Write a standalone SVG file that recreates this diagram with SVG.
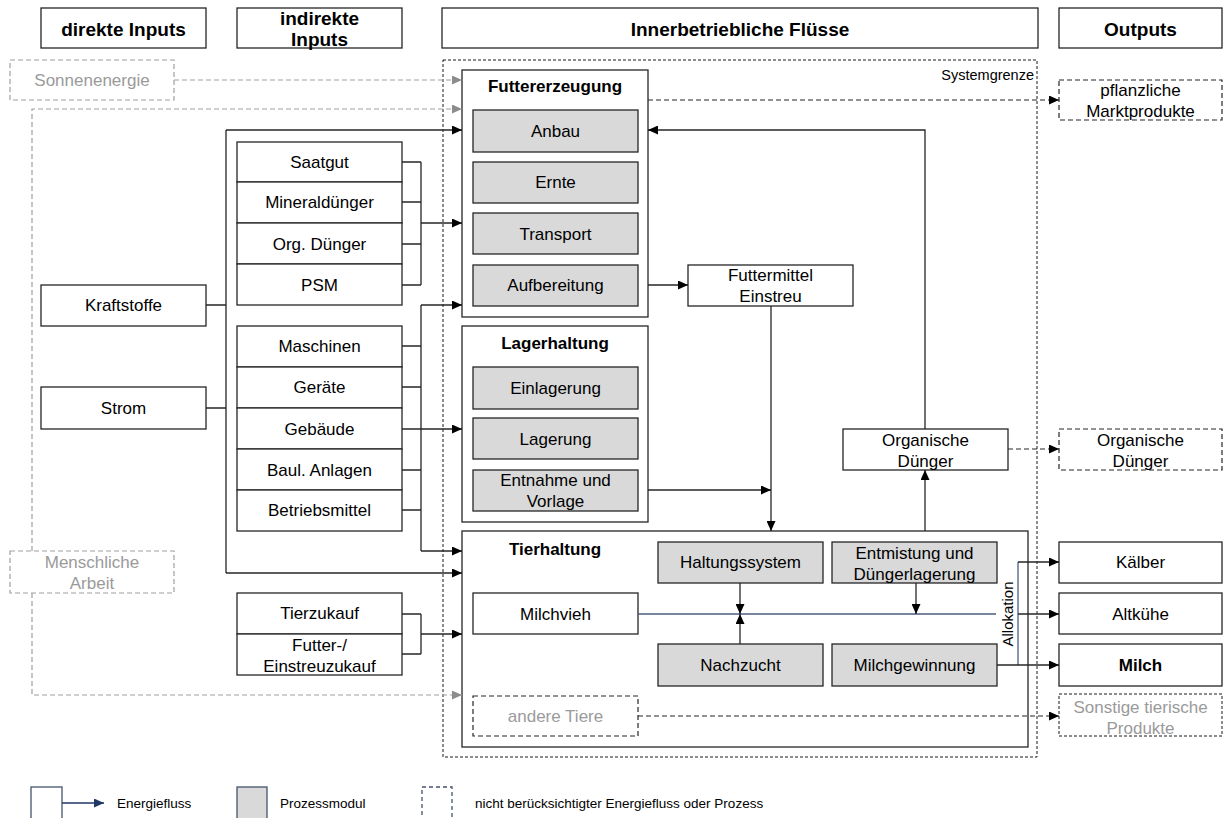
<svg xmlns="http://www.w3.org/2000/svg" width="1225" height="818" viewBox="0 0 1225 818">
<style>
text{font-family:"Liberation Sans",Arial,sans-serif;fill:#000}
.t{font-size:17px;text-anchor:middle}
.h{font-size:19px;font-weight:bold;text-anchor:middle}
.b{font-weight:bold}
.g{fill:#9a9a9a}
.box{fill:#fff;stroke:#262626;stroke-width:1.3}
.proc{fill:#d9d9d9;stroke:#262626;stroke-width:1.3}
.dbox{fill:#fff;stroke:#262626;stroke-width:1.2;stroke-dasharray:5,3}
.gbox{fill:#fff;stroke:#a0a0a0;stroke-width:1.2;stroke-dasharray:5,3}
.sys{fill:none;stroke:#1a1a1a;stroke-width:1;stroke-dasharray:3,2}
.ln{fill:none;stroke:#262626;stroke-width:1.3}
.dl{fill:none;stroke:#262626;stroke-width:1.2;stroke-dasharray:5,3}
.gl{fill:none;stroke:#a0a0a0;stroke-width:1.2;stroke-dasharray:5,3}
.bl{fill:none;stroke:#4a5d7e;stroke-width:1.3}
.lg{font-size:13.5px}
.lgb{stroke:#44546a;stroke-width:1.3}
</style>
<defs>
<marker id="a" markerUnits="userSpaceOnUse" markerWidth="10" markerHeight="9" refX="10" refY="4.5" orient="auto"><path d="M0,0L10,4.5L0,9z" fill="#000"/></marker>
<marker id="ag" markerUnits="userSpaceOnUse" markerWidth="10" markerHeight="9" refX="10" refY="4.5" orient="auto"><path d="M0,0L10,4.5L0,9z" fill="#8c8c8c"/></marker>
<marker id="ab" markerUnits="userSpaceOnUse" markerWidth="10" markerHeight="9" refX="10" refY="4.5" orient="auto"><path d="M0,0L10,4.5L0,9z" fill="#1f3864"/></marker>
</defs>
<rect width="1225" height="818" fill="#fff"/>

<g id="headers">
<g id="h-direkt"><rect class="box" x="41" y="8" width="165" height="40"/><text class="h" x="123.5" y="36">direkte Inputs</text></g>
<g id="h-indirekt"><rect class="box" x="237" y="8" width="165" height="40"/><text class="h" x="319.5" y="25">indirekte</text><text class="h" x="319.5" y="46">Inputs</text></g>
<g id="h-inner"><rect class="box" x="442" y="8" width="596" height="40"/><text class="h" x="740" y="36">Innerbetriebliche Flüsse</text></g>
<g id="h-out"><rect class="box" x="1059" y="8" width="163" height="40"/><text class="h" x="1140.5" y="36">Outputs</text></g>
</g>

<g id="systemgrenze"><rect class="sys" x="443" y="60" width="594" height="697"/><text x="1034" y="80" style="font-size:14.5px;text-anchor:end">Systemgrenze</text></g>

<g id="sonnenenergie"><rect class="gbox" x="10" y="60" width="164" height="40"/><text class="t g" x="92" y="86">Sonnenenergie</text></g>
<g id="menschliche-arbeit"><rect class="gbox" x="10" y="551" width="164" height="42"/><text class="t g" x="92" y="568">Menschliche</text><text class="t g" x="92" y="589">Arbeit</text></g>
<g id="kraftstoffe"><rect class="box" x="41" y="285" width="165" height="41"/><text class="t" x="123.5" y="311">Kraftstoffe</text></g>
<g id="strom"><rect class="box" x="41" y="387" width="165" height="42"/><text class="t" x="123.5" y="414">Strom</text></g>

<g id="saatgut"><rect class="box" x="237" y="142" width="165" height="40"/><text class="t" x="319.5" y="168">Saatgut</text></g>
<g id="mineralduenger"><rect class="box" x="237" y="182" width="165" height="41"/><text class="t" x="319.5" y="208">Mineraldünger</text></g>
<g id="org-duenger"><rect class="box" x="237" y="223" width="165" height="41"/><text class="t" x="319.5" y="250">Org. Dünger</text></g>
<g id="psm"><rect class="box" x="237" y="264" width="165" height="41"/><text class="t" x="319.5" y="291">PSM</text></g>
<g id="maschinen"><rect class="box" x="237" y="326" width="165" height="41"/><text class="t" x="319.5" y="352">Maschinen</text></g>
<g id="geraete"><rect class="box" x="237" y="367" width="165" height="41"/><text class="t" x="319.5" y="393">Geräte</text></g>
<g id="gebaeude"><rect class="box" x="237" y="408" width="165" height="41"/><text class="t" x="319.5" y="435">Gebäude</text></g>
<g id="baul-anlagen"><rect class="box" x="237" y="449" width="165" height="41"/><text class="t" x="319.5" y="476">Baul. Anlagen</text></g>
<g id="betriebsmittel"><rect class="box" x="237" y="490" width="165" height="41"/><text class="t" x="319.5" y="516">Betriebsmittel</text></g>
<g id="tierzukauf"><rect class="box" x="237" y="593" width="165" height="41"/><text class="t" x="319.5" y="619">Tierzukauf</text></g>
<g id="futterzukauf"><rect class="box" x="237" y="634" width="165" height="41"/><text class="t" x="319.5" y="651">Futter-/</text><text class="t" x="319.5" y="672">Einstreuzukauf</text></g>

<g id="futtererzeugung"><rect class="box" x="462" y="70" width="186" height="247"/><text class="t b" x="555" y="92">Futtererzeugung</text></g>
<g id="anbau"><rect class="proc" x="473" y="110" width="165" height="42"/><text class="t" x="555.5" y="137">Anbau</text></g>
<g id="ernte"><rect class="proc" x="473" y="162" width="165" height="41"/><text class="t" x="555.5" y="188">Ernte</text></g>
<g id="transport"><rect class="proc" x="473" y="213" width="165" height="41"/><text class="t" x="555.5" y="240">Transport</text></g>
<g id="aufbereitung"><rect class="proc" x="473" y="265" width="165" height="41"/><text class="t" x="555.5" y="291">Aufbereitung</text></g>

<g id="lagerhaltung"><rect class="box" x="462" y="326" width="186" height="196"/><text class="t b" x="555" y="349">Lagerhaltung</text></g>
<g id="einlagerung"><rect class="proc" x="473" y="367" width="165" height="42"/><text class="t" x="555.5" y="394">Einlagerung</text></g>
<g id="lagerung"><rect class="proc" x="473" y="418" width="165" height="41"/><text class="t" x="555.5" y="445">Lagerung</text></g>
<g id="entnahme"><rect class="proc" x="473" y="470" width="165" height="41"/><text class="t" x="555.5" y="486">Entnahme und</text><text class="t" x="555.5" y="507">Vorlage</text></g>

<g id="futtermittel"><rect class="box" x="688" y="265" width="165" height="41"/><text class="t" x="770.5" y="281">Futtermittel</text><text class="t" x="770.5" y="302">Einstreu</text></g>
<g id="org-duenger-int"><rect class="box" x="843" y="429" width="165" height="41"/><text class="t" x="925.5" y="446">Organische</text><text class="t" x="925.5" y="467">Dünger</text></g>

<g id="tierhaltung"><rect class="box" x="462" y="531" width="566" height="216"/><text class="t b" x="555" y="555">Tierhaltung</text></g>
<g id="haltungssystem"><rect class="proc" x="658" y="542" width="165" height="41"/><text class="t" x="740.5" y="568">Haltungssystem</text></g>
<g id="entmistung"><rect class="proc" x="832" y="542" width="165" height="41"/><text class="t" x="914.5" y="559">Entmistung und</text><text class="t" x="914.5" y="580">Düngerlagerung</text></g>
<g id="milchvieh"><rect class="box" x="473" y="593" width="165" height="41"/><text class="t" x="555.5" y="620">Milchvieh</text></g>
<g id="nachzucht"><rect class="proc" x="658" y="644" width="165" height="42"/><text class="t" x="740.5" y="671">Nachzucht</text></g>
<g id="milchgewinnung"><rect class="proc" x="832" y="644" width="165" height="42"/><text class="t" x="914.5" y="671">Milchgewinnung</text></g>
<g id="andere-tiere"><rect class="dbox" x="473" y="696" width="165" height="40"/><text class="t g" x="555.5" y="722">andere Tiere</text></g>

<g id="pflanzliche"><rect class="dbox" x="1059" y="80" width="163" height="40"/><text class="t" x="1140.5" y="96">pflanzliche</text><text class="t" x="1140.5" y="117">Marktprodukte</text></g>
<g id="org-duenger-out"><rect class="dbox" x="1059" y="429" width="163" height="41"/><text class="t" x="1140.5" y="446">Organische</text><text class="t" x="1140.5" y="467">Dünger</text></g>
<g id="kaelber"><rect class="box" x="1059" y="542" width="163" height="41"/><text class="t" x="1140.5" y="568">Kälber</text></g>
<g id="altkuehe"><rect class="box" x="1059" y="593" width="163" height="41"/><text class="t" x="1140.5" y="620">Altkühe</text></g>
<g id="milch"><rect class="box" x="1059" y="644" width="163" height="42"/><text class="t b" x="1140.5" y="671">Milch</text></g>
<g id="sonstige"><rect class="sys" x="1059" y="694" width="163" height="42" style="fill:#fff"/><text class="t g" x="1140.5" y="713">Sonstige tierische</text><text class="t g" x="1140.5" y="734">Produkte</text></g>

<g id="connectors">
<path class="gl" d="M174,80H462" marker-end="url(#ag)"/>
<path class="gl" d="M32,551V109H462" marker-end="url(#ag)"/>
<path class="gl" d="M32,593V695H462" marker-end="url(#ag)"/>
<path class="ln" d="M206,305H226M206,408H226M226,130V573"/>
<path class="ln" d="M226,130H462" marker-end="url(#a)"/>
<path class="ln" d="M226,573H462" marker-end="url(#a)"/>
<path class="ln" d="M402,162H421M402,202H421M402,244H421M402,285H421M421,162V285"/>
<path class="ln" d="M421,223H462" marker-end="url(#a)"/>
<path class="ln" d="M402,346H421M402,387H421M402,470H421M402,510H421M421,305V551"/>
<path class="ln" d="M402,429H462" marker-end="url(#a)"/>
<path class="ln" d="M421,305H462" marker-end="url(#a)"/>
<path class="ln" d="M421,551H462" marker-end="url(#a)"/>
<path class="ln" d="M402,614H421M402,654H421M421,614V654"/>
<path class="ln" d="M421,634H462" marker-end="url(#a)"/>
<path class="ln" d="M648,285H688" marker-end="url(#a)"/>
<path class="ln" d="M771,306V531" marker-end="url(#a)"/>
<path class="ln" d="M648,490H771" marker-end="url(#a)"/>
<path class="ln" d="M925,531V470" marker-end="url(#a)"/>
<path class="ln" d="M925,429V130H648" marker-end="url(#a)"/>
<path class="dl" d="M648,100H1059" marker-end="url(#a)"/>
<path class="dl" d="M1008,449H1059" marker-end="url(#a)"/>
<path class="dl" d="M638,716H1059" marker-end="url(#a)"/>
<path class="bl" d="M638,614H996"/>
<path class="ln" d="M740,583V614" marker-end="url(#a)"/>
<path class="ln" d="M740,644V614" marker-end="url(#a)"/>
<path class="ln" d="M916,583V614" marker-end="url(#a)"/>
<path class="bl" d="M1018,562V665"/>
<path class="ln" d="M1018,562H1059" marker-end="url(#a)"/>
<path class="ln" d="M1018,614H1059" marker-end="url(#a)"/>
<path class="ln" d="M997,665H1059" marker-end="url(#a)"/>
<text class="t" style="font-size:15px" transform="translate(1013,614) rotate(-90)">Allokation</text>
</g>

<g id="legend">
<rect class="lgb" x="31" y="787" width="31" height="40" fill="#fff"/>
<path d="M62,803H104" stroke="#1f3864" stroke-width="1.3" marker-end="url(#ab)"/>
<text class="lg" x="117" y="808">Energiefluss</text>
<rect class="lgb" x="237" y="787" width="30" height="40" fill="#d9d9d9"/>
<text class="lg" x="280" y="808">Prozessmodul</text>
<rect class="lgb" x="422" y="787" width="30" height="40" fill="#fff" stroke-dasharray="4,3"/>
<text class="lg" x="475" y="808">nicht berücksichtigter Energiefluss oder Prozess</text>
</g>
</svg>
